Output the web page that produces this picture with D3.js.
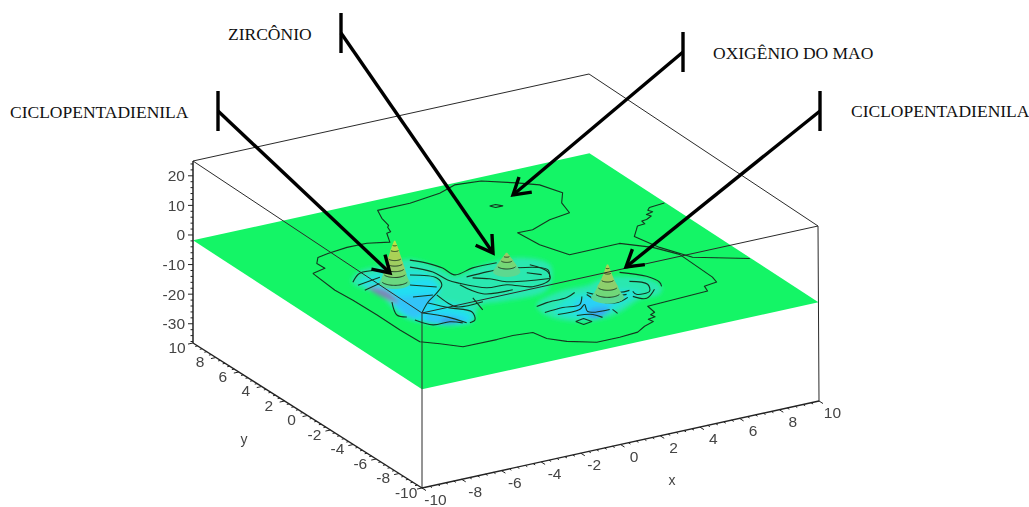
<!DOCTYPE html>
<html><head><meta charset="utf-8">
<script src="https://cdn.jsdelivr.net/npm/d3@7"></script>
<style>html,body{margin:0;padding:0;background:#fff;overflow:hidden}svg{display:block}</style>
</head><body><svg id="c" width="1029" height="507"></svg>
<script>
// ---------- data (x, y in plot units; z in plot units) ----------
const zPlane = -1.8;
const xTickLabels = [-10,-8,-6,-4,-2,0,2,4,6,8,10];
const yTickLabels = [10,8,6,4,2,0,-2,-4,-6,-8,-10];
const zTickLabels = [20,10,0,-10,-20,-30];

const outerContour = [[-7.40,4.04],[-6.65,4.28],[-6.67,4.95],[-6.28,5.53],[-5.67,5.71],[-4.60,5.90],[-3.61,5.88],[-2.68,5.48],[-2.28,6.44],[-2.05,6.5],[-1.90,7.02],[-1.75,7.2],[-1.60,8.05],[-1.30,8.94],[0.33,8.94],[2.04,9.30],[3.08,9.8],[4.31,9.6],[5.54,8.63],[6.29,7.93],[6.70,6.63],[6.08,5.64],[5.80,4.47],[4.65,4.21],[3.42,3.57],[2.68,3.60],[2.82,1.92],[3.37,0.26],[5.91,0.29],[6.93,-0.84],[7.54,-2.13],[7.46,-5.14],[7.33,-5.73],[6.63,-5.87],[6.47,-6.43],[3.33,-6.64],[3.24,-7.39],[2.95,-7.55],[3.0,-7.85],[2.6,-7.95],[2.65,-8.3],[2.05,-8.58],[1.45,-9.02],[0.48,-9.13],[-0.68,-9.13],[-1.76,-8.38],[-2.35,-7.65],[-2.53,-6.75],[-3.46,-6.61],[-4.30,-6.66],[-5.99,-6.64],[-6.69,-5.83],[-7.33,-5.19],[-7.39,-3.56],[-7.39,-1.56],[-7.44,0.46],[-7.54,1.86],[-7.40,4.04]];
const rightContour = [[9.95,3.37],[9.12,3.24],[8.9,3.0],[9.0,2.75],[8.6,2.6],[8.7,2.35],[8.32,2.10],[8.05,2.05],[8.0,1.7],[7.6,1.65],[7.36,1.32],[6.87,0.66],[7.19,-0.99],[7.86,-2.71],[9.95,-4.09]];
const smallLoopTop = [[3.18,6.91],[3.49,6.93],[3.68,6.63],[3.32,6.63],[3.18,6.91]];
const smallLoopBottom = [[-0.27,-6.58],[0.20,-6.45],[0.34,-6.93],[-0.14,-7.05],[-0.27,-6.58]];

const innerContours = [
 [[-2.97,3.23],[-2.50,2.56],[-2.19,1.72],[-2.13,0.76],[-1.05,1.07],[0.15,1.05]],
 [[-3.37,2.53],[-2.79,1.53],[-2.69,0.41],[-2.48,-0.11],[-1.67,-1.24],[-0.74,-1.37],[0.12,-2.14],[1.18,-1.80],[1.56,-0.96],[1.29,0.13]],
 [[-3.83,1.73],[-2.99,0.85],[-3.20,0.04],[-3.85,-0.65],[-4.71,-1.37],[-5.58,-2.34]],
 [[-4.41,0.73],[-3.51,-0.05]],
 [[-4.99,-0.54],[-4.12,-0.77]],
 [[-6.40,2.27],[-5.62,3.02],[-4.68,2.88]],
 [[-6.38,1.86],[-5.09,2.18]],
 [[-6.41,1.21],[-5.43,1.58]],
 [[-6.08,-0.59],[-6.64,-1.99],[-6.38,-2.41]],
 [[-3.97,-0.85],[-4.02,-1.90],[-3.91,-2.50],[-2.63,-2.56]],
 [[-4.77,-1.47],[-4.23,-2.44],[-3.63,-3.32],[-3.97,-4.19],[-4.34,-4.38]],
 [[-5.54,-2.36],[-4.86,-3.28],[-4.46,-4.31]],
 [[-6.25,-2.89],[-5.85,-3.78],[-5.04,-3.84],[-4.61,-4.23]],
 [[-1.80,0.30],[-0.75,0.36],[-0.25,0.35]],
 [[-1.63,0.07],[-1.04,-0.40],[-0.57,-1.07],[1.24,-1.70]],
 [[0.65,0.09],[1.68,-0.76],[1.29,-1.60]],
 [[0.71,-0.61],[1.16,-1.13]],
 [[-2.52,-0.35],[-2.17,-1.75],[-0.80,-2.0]],
 [[-2.78,-1.94],[-3.10,-3.36]],
 [[-0.88,-4.23],[-0.27,-4.05],[0.78,-3.98],[1.37,-3.65]],
 [[-0.92,-5.01],[0.05,-4.90],[0.86,-4.97],[1.41,-4.21]],
 [[-0.54,-5.49],[0.57,-5.47],[1.05,-5.07],[0.76,-5.84],[1.71,-6.12]],
 [[0.12,-6.0],[0.78,-6.25],[0.98,-6.76]],
 [[1.71,-4.11],[1.80,-5.10],[2.42,-5.59],[3.09,-5.31]],
 [[1.83,-3.91],[2.35,-4.75],[3.22,-4.98]],
 [[2.49,-3.89],[3.08,-4.62],[3.56,-4.64]],
 [[1.82,-6.18],[1.78,-6.69]],
 [[3.34,-5.32],[3.75,-5.82],[4.57,-5.08]],
 [[4.23,-2.62],[5.02,-3.61],[5.17,-4.49],[5.01,-4.94]],
 [[4.08,-3.74],[4.60,-4.43],[4.27,-5.17],[3.60,-5.19],[3.63,-4.81]]
];

// filled low-lying areas: level + outline
const leftBasin1 = [[-6.44,2.29],[-5.63,3.16],[-4.20,3.28],[-2.91,3.33],[-2.37,2.09],[-2.19,0.66],[-0.66,1.11],[1.31,1.05],[2.05,-0.30],[1.25,-1.85],[0.30,-2.90],[-1.99,-2.93],[-2.85,-2.84],[-3.54,-3.51],[-4.17,-4.34],[-5.38,-4.18],[-6.18,-3.19],[-6.52,-2.06],[-6.13,0.38]];
const leftBasin2 = [[-6.08,2.22],[-4.61,2.58],[-3.10,1.71],[-3.35,0.13],[-4.31,-0.66],[-3.47,-2.88],[-3.86,-3.99],[-4.47,-4.17],[-5.99,-3.30],[-6.35,-1.76],[-6.11,-0.03]];
const leftBasin3 = [[-6.12,1.71],[-4.98,1.06],[-3.37,0.80],[-3.57,-0.42],[-4.62,-1.55],[-3.95,-3.27],[-4.09,-4.12],[-5.21,-4.14],[-5.99,-3.30],[-6.39,-2.27],[-6.04,-0.34]];
const leftBasin4 = [[-6.02,1.26],[-5.62,-0.04],[-4.11,-0.91],[-4.89,-1.67],[-6.14,-2.69],[-6.08,-0.59]];
const leftBasin5 = [[-5.58,-2.60],[-4.63,-3.14],[-4.24,-4.04],[-5.15,-4.04],[-5.87,-3.37]];
const leftBasin6 = [[-5.06,-3.44],[-4.62,-3.82],[-4.91,-4.05],[-5.42,-3.63]];
const leftBasin7 = [[-6.12,1.44],[-5.60,0.61],[-5.91,-0.82],[-6.16,0.13]];
const rightBasin1 = [[-0.77,-4.03],[0.86,-3.22],[2.40,-3.17],[3.07,-2.89],[4.07,-3.07],[4.96,-3.97],[4.96,-5.04],[4.47,-5.69],[3.42,-5.77],[1.92,-6.63],[0.76,-6.90],[-0.31,-6.56],[-1.03,-5.21]];
const rightBasin2 = [[0.89,-4.05],[2.19,-3.98],[3.44,-4.43],[3.83,-5.06],[2.27,-6.03],[1.24,-6.51],[0.11,-6.27],[-0.48,-5.12]];
const rightBasin3 = [[0.67,-4.86],[1.65,-4.48],[2.48,-5.23],[1.63,-6.07],[0.68,-6.59],[0.23,-6.07]];
const rightBasin4 = [[0.95,-5.68],[1.77,-6.02],[0.87,-6.70],[0.49,-6.48]];
const basins = [
 [-1,leftBasin1],[-2,leftBasin2],[-3,leftBasin3],[-4,leftBasin4],[-4,leftBasin5],[-5,leftBasin6],[-6,leftBasin7],
 [-1,rightBasin1],[-2,rightBasin2],[-3.5,rightBasin3],[-4.5,rightBasin4]
];

// peaks: centre and rings [z, radius]
const peakLeftCentre = [-4.87,1.26];
const peakLeftRings = [[-1.8,0.68],[-0.8,0.6],[1.6,0.5],[3.4,0.43],[5.1,0.36],[6.8,0.29],[9.6,0.18],[11.3,0.1],[12.7,0.03]];
const peakMidCentre = [0.01,-0.07];
const peakMidRings = [[-1.8,0.6],[0.4,0.42],[2.2,0.26],[3.6,0.13],[4.7,0.03]];
const peakRightCentre = [2.33,-4.87];
const peakRightRings = [[-1.8,0.72],[-0.1,0.56],[2.0,0.44],[4.4,0.28],[6.8,0.16],[8.5,0.09],[9.6,0.03]];

const annotations = ["CICLOPENTADIENILA","ZIRCÔNIO","OXIGÊNIO DO MAO","CICLOPENTADIENILA"];

// ---------- layout ----------
const box = {
  bottom:{F:[422,488],R:[819,401],L:[193,343]},
  top:{F:[422,313],R:[818,226],L:[193,161]}
};
const labelPos = [[10,118],[228,40],[713,59],[851,117]];
const arrows = [
 {bar:[218,91,131],from:[218,111],tip:[390,273]},
 {bar:[341,13,53],from:[341,33],tip:[493,253]},
 {bar:[683,32,72],from:[683,52],tip:[513,195]},
 {bar:[820,91,131],from:[820,111],tip:[626,267]}
];

const svg = d3.select("#c");
const xU = d3.scaleLinear().domain([-10,10]).range([0,1]);
const yU = d3.scaleLinear().domain([-10,10]).range([0,1]);
const zU = d3.scaleLinear().domain([-36.5,25]).range([0,1]);
function project(x,y,z){
  const u=xU(x),v=yU(y),w=zU(z);
  const face=f=>[f.F[0]+u*(f.R[0]-f.F[0])+v*(f.L[0]-f.F[0]), f.F[1]+u*(f.R[1]-f.F[1])+v*(f.L[1]-f.F[1])];
  const a=face(box.bottom),b=face(box.top);
  return [a[0]+w*(b[0]-a[0]),a[1]+w*(b[1]-a[1])];
}
const line = d3.line();
const smoothLine = d3.line().curve(d3.curveCatmullRom.alpha(0.5));
const smoothClosed = d3.line().curve(d3.curveCatmullRomClosed.alpha(0.5));
const onPlane = pts => pts.map(p=>project(p[0],p[1],zPlane));
const levelColor = d3.scaleLinear().domain([0,-1,-2,-3,-4,-5,-6])
  .range(["#14f566","#2ae8b0","#28e4d6","#22def2","#30c4f8","#3f8ce8","#7d86b8"]);
const peakColor = d3.scaleLinear().domain([-1.8,1,4,8,12.7])
  .range(["#50d8a0","#70d878","#98cc68","#a8d058","#bce840"]);

const defs = svg.append("defs");
function blur(id,s){
  defs.append("filter").attr("id",id).attr("x","-10%").attr("y","-10%").attr("width","120%").attr("height","120%")
    .append("feGaussianBlur").attr("stdDeviation",s);
}
blur("soft",2); blur("fine",0.35);

// plane
svg.append("path").attr("fill","#14f566")
  .attr("d",line(onPlane([[-10,10],[10,10],[10,-10],[-10,-10]]))+"Z");

// basins
svg.append("g").attr("filter","url(#soft)").selectAll("path").data(basins).join("path")
  .attr("fill",d=>levelColor(d[0])).attr("d",d=>smoothClosed(onPlane(d[1]))+"Z");

// contours
const contourG = svg.append("g").attr("fill","none").attr("stroke","#14351f").attr("stroke-width",1.1)
  .attr("stroke-linejoin","round").attr("filter","url(#fine)");
[outerContour,rightContour,smallLoopTop,smallLoopBottom].forEach(c=>{
  contourG.append("path").attr("d",line(onPlane(c)));
});
innerContours.forEach(c=>{
  contourG.append("path").attr("d",smoothLine(onPlane(c)));
});

// peaks
function ring(c,z,r,a0,a1){
  return d3.range(0,25).map(i=>{const t=a0+(a1-a0)*i/24;return project(c[0]+r*Math.cos(t),c[1]+r*Math.sin(t),z);});
}
const front = Math.atan2(-7.5,-4.3);
function drawPeak(c,rings){
  const g=svg.append("g").attr("filter","url(#fine)");
  d3.pairs(rings).forEach(([a,b])=>{
    const hull=d3.polygonHull(ring(c,a[0],a[1],0,2*Math.PI).concat(ring(c,b[0],b[1],0,2*Math.PI)));
    g.append("path").attr("fill",peakColor((a[0]+b[0])/2)).attr("d",line(hull)+"Z");
  });
  rings.slice(1,-1).forEach(a=>{
    g.append("path").attr("fill","none").attr("stroke","#1f3a24").attr("stroke-width",1)
     .attr("d",line(ring(c,a[0],a[1],front-1.15,front+1.15)));
  });
}
drawPeak(peakLeftCentre,peakLeftRings);
drawPeak(peakMidCentre,peakMidRings);
drawPeak(peakRightCentre,peakRightRings);

// box
const zMin=zU.domain()[0], zMax=zU.domain()[1];
const boxEdges=[
 [[-10,10,zMax],[10,10,zMax]],[[10,10,zMax],[10,-10,zMax]],[[10,-10,zMax],[-10,-10,zMax]],[[-10,-10,zMax],[-10,10,zMax]],
 [[-10,-10,zMax],[-10,-10,zMin]],[[10,-10,zMax],[10,-10,zMin]]
];
svg.append("g").attr("fill","none").attr("stroke","#2a2a2a").attr("stroke-width",1)
  .selectAll("path").data(boxEdges).join("path").attr("d",d=>line(d.map(p=>project(...p))));

// axes
const axisG=svg.append("g").attr("stroke","#222").attr("fill","none");
function seg(a,b,w){axisG.append("path").attr("stroke-width",w).attr("d",line([a,b]));}
seg(project(-10,10,zMax),project(-10,10,zMin),1.5);
seg(project(-10,10,zMin),project(-10,-10,zMin),1.4);
seg(project(-10,-10,zMin),project(10,-10,zMin),1.4);
d3.range(-36,25,2).forEach(z=>{
  const major=z%10===0, p=project(-10,10,z);
  seg(p,[p[0]-(major?5:2.5),p[1]],1);
});
d3.range(0,51).map(i=>-10+i*0.4).forEach(t=>{
  const major=Math.abs(t/2-Math.round(t/2))<1e-6;
  seg(project(-10,t,zMin),project(-10-(major?0.25:0.12),t,zMin),1);
  seg(project(t,-10,zMin),project(t,-10-(major?0.35:0.18),zMin),1);
});

// tick labels
const labelG=svg.append("g").attr("font-family","'Liberation Sans',Arial,sans-serif").attr("font-size",15.5).attr("fill","#444").attr("filter","url(#fine)");
zTickLabels.forEach(z=>{
  const p=project(-10,10,z);
  labelG.append("text").attr("x",p[0]-8).attr("y",p[1]+5.5).attr("text-anchor","end").text(z);
});
yTickLabels.forEach(y=>{
  const p=project(-10.8,y,zMin);
  labelG.append("text").attr("x",p[0]).attr("y",p[1]+6.5).attr("text-anchor","middle").text(y);
});
xTickLabels.forEach(x=>{
  const p=project(x,-11,zMin);
  labelG.append("text").attr("x",p[0]+2).attr("y",p[1]+10).attr("text-anchor","middle").text(x);
});
const yT=project(-13.2,0,zMin), xT=project(0,-14.5,zMin);
labelG.append("text").attr("x",yT[0]).attr("y",yT[1]+15).attr("text-anchor","middle").attr("font-size",14).text("y");
labelG.append("text").attr("x",xT[0]).attr("y",xT[1]+8).attr("text-anchor","middle").attr("font-size",14).text("x");

// arrows
const arrowG=svg.append("g").attr("stroke","#000").attr("fill","none").attr("stroke-width",3.4);
arrows.forEach(a=>{
  arrowG.append("path").attr("d",line([[a.bar[0],a.bar[1]],[a.bar[0],a.bar[2]]]));
  arrowG.append("path").attr("d",line([a.from,a.tip]));
  const ang=Math.atan2(a.from[1]-a.tip[1],a.from[0]-a.tip[0]), L=19, s=0.55;
  const b1=[a.tip[0]+L*Math.cos(ang+s),a.tip[1]+L*Math.sin(ang+s)];
  const b2=[a.tip[0]+L*Math.cos(ang-s),a.tip[1]+L*Math.sin(ang-s)];
  arrowG.append("path").attr("d",line([b1,a.tip,b2]));
});

// annotation labels
svg.append("g").attr("font-family","'Liberation Serif','Times New Roman',serif").attr("font-size",17.5).attr("fill","#111")
  .selectAll("text").data(annotations).join("text")
  .attr("x",(d,i)=>labelPos[i][0]).attr("y",(d,i)=>labelPos[i][1]).text(d=>d);
</script></body></html>
